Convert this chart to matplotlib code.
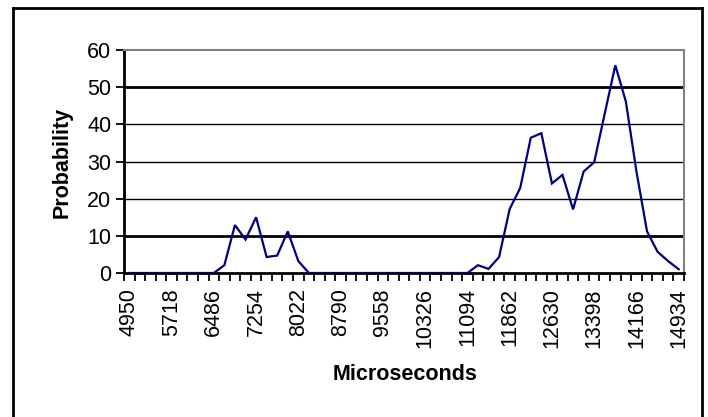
import matplotlib
matplotlib.use("Agg")
import matplotlib.pyplot as plt
from matplotlib.lines import Line2D
import numpy as np

plt.rcParams['font.family'] = ['Liberation Sans', 'DejaVu Sans']

# Categories: microseconds bins
categories = [4950 + 192 * i for i in range(53)]
probability = [0, 0, 0, 0, 0, 0, 0, 0, 0, 2.1, 12.9, 9.0, 15.0, 4.3, 4.7, 11.2, 3.2,
               0, 0, 0, 0, 0, 0, 0, 0, 0, 0, 0, 0, 0, 0, 0, 0,
               2.1, 1.1, 4.3, 17.2, 22.9, 36.4, 37.6, 24.1, 26.4, 17.1, 27.3, 29.8,
               42.9, 55.9, 46.1, 27.3, 11.2, 5.7, 3.2, 1.0]
y_ticks = [0, 10, 20, 30, 40, 50, 60]

W, H = 708, 417
fig = plt.figure(figsize=(W / 100, H / 100), dpi=100)
fig.patch.set_facecolor('white')

ax = fig.add_axes([124 / W, 1 - 273 / H, (684 - 124) / W, (273 - 50) / H])

x = np.arange(len(categories))
ax.plot(x, probability, color='#000080', lw=1.6, solid_joinstyle='miter', zorder=3)

ax.set_xlim(-0.5, len(categories) - 0.5)
ax.set_ylim(0, 60)

# gridlines
for v in y_ticks[1:-1]:
    ax.axhline(v, color='black', lw=2.0 if v in (10, 50) else 1.0, zorder=1)

ax.set_yticks(y_ticks)
ax.set_yticklabels([str(v) for v in y_ticks], fontsize=15.5)
ax.tick_params(axis='y', direction='out', length=6, width=1.3, color='black', pad=3)

ax.set_xticks(x[::4])
ax.set_xticklabels([str(c) for c in categories[::4]], rotation=90, fontsize=15.5)
ax.set_xticks(np.arange(-0.5, len(categories), 1.0), minor=True)
ax.tick_params(axis='x', which='major', length=0, pad=11)
ax.tick_params(axis='x', which='minor', direction='out', length=6, width=1.3, color='black')

for s in ('left', 'bottom'):
    ax.spines[s].set_color('black')
    ax.spines[s].set_linewidth(2.0)
for s in ('top', 'right'):
    ax.spines[s].set_color('#808080')
    ax.spines[s].set_linewidth(1.5)

fig.text(62 / W, 1 - 162 / H, 'Probability', rotation=90, fontsize=15.5,
         fontweight='bold', ha='center', va='center')
fig.text(405 / W, 1 - 375 / H, 'Microseconds', fontsize=15.5,
         fontweight='bold', ha='center', va='center')

# outer frame
fr = dict(color='black', lw=2.0, transform=fig.transFigure)
fig.add_artist(Line2D([13 / W, 13 / W], [0, 1 - 8 / H], **fr))
fig.add_artist(Line2D([13 / W, 702 / W], [1 - 8 / H, 1 - 8 / H], **fr))
fig.add_artist(Line2D([702 / W, 702 / W], [0, 1 - 8 / H], **fr))

fig.savefig('out.png', dpi=100, facecolor='white')
